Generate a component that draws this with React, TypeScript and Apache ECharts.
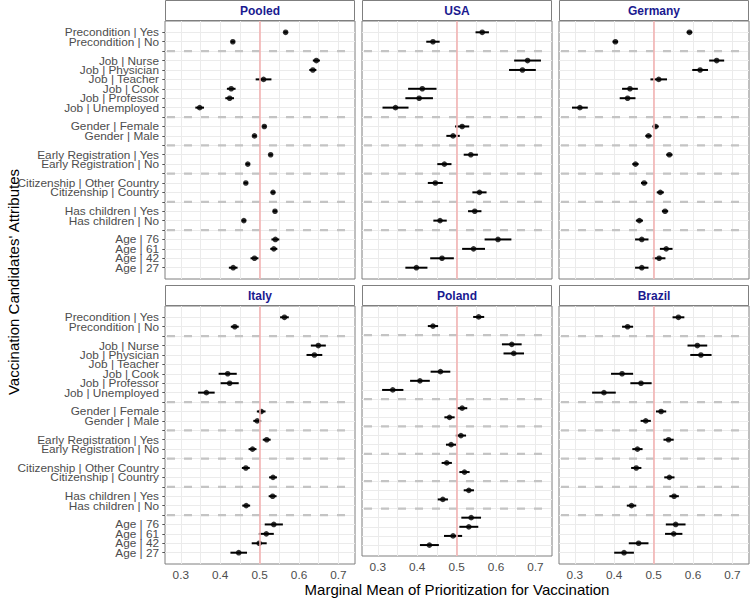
import React, { useEffect, useRef } from "react";
import * as echarts from "echarts";

const attributes = [
  "Precondition | Yes", "Precondition | No",
  "Job | Nurse", "Job | Physician", "Job | Teacher", "Job | Cook", "Job | Professor", "Job | Unemployed",
  "Gender | Female", "Gender | Male",
  "Early Registration | Yes", "Early Registration | No",
  "Citizenship | Other Country", "Citizenship | Country",
  "Has children | Yes", "Has children | No",
  "Age | 76", "Age | 61", "Age | 42", "Age | 27",
];
const attributeSlots = [0, 1, 3, 4, 5, 6, 7, 8, 10, 11, 13, 14, 16, 17, 19, 20, 22, 23, 24, 25];
const separatorSlots = [2, 9, 12, 15, 18, 21];
const allSlots = Array.from({ length: 26 }, (_, i) => i);
const panels = ["Pooled", "USA", "Germany", "Italy", "Poland", "Brazil"];
const xTicks = [0.3, 0.4, 0.5, 0.6, 0.7];
const xGridValues = [0.3, 0.35, 0.4, 0.45, 0.5, 0.55, 0.6, 0.65, 0.7];
const referenceValue = 0.5;

const pooledEstimate = [0.566, 0.432, 0.644, 0.635, 0.51, 0.428, 0.424, 0.348, 0.512, 0.487, 0.528, 0.47, 0.465, 0.534, 0.539, 0.46, 0.54, 0.536, 0.487, 0.433];
const pooledHalfCI = [0.005, 0.005, 0.009, 0.009, 0.02, 0.011, 0.011, 0.011, 0.005, 0.005, 0.005, 0.005, 0.005, 0.005, 0.005, 0.005, 0.01, 0.009, 0.01, 0.011];

const usaEstimate = [0.565, 0.44, 0.68, 0.667, null, 0.413, 0.405, 0.345, 0.514, 0.491, 0.536, 0.469, 0.446, 0.558, 0.546, 0.458, 0.605, 0.543, 0.463, 0.398];
const usaHalfCI = [0.017, 0.017, 0.034, 0.034, null, 0.036, 0.035, 0.033, 0.018, 0.017, 0.018, 0.018, 0.019, 0.018, 0.017, 0.017, 0.034, 0.029, 0.03, 0.028];

const germanyEstimate = [0.591, 0.403, 0.66, 0.618, 0.513, 0.44, 0.434, 0.313, 0.505, 0.487, 0.54, 0.454, 0.476, 0.517, 0.529, 0.464, 0.47, 0.532, 0.514, 0.47];
const germanyHalfCI = [0.007, 0.007, 0.019, 0.02, 0.021, 0.02, 0.02, 0.02, 0.008, 0.008, 0.008, 0.008, 0.008, 0.009, 0.008, 0.009, 0.017, 0.016, 0.016, 0.017];

const italyEstimate = [0.563, 0.437, 0.649, 0.639, null, 0.419, 0.424, 0.365, 0.504, 0.494, 0.518, 0.482, 0.465, 0.534, 0.533, 0.466, 0.536, 0.517, 0.499, 0.447];
const italyHalfCI = [0.011, 0.01, 0.019, 0.02, null, 0.023, 0.023, 0.021, 0.011, 0.01, 0.01, 0.01, 0.01, 0.01, 0.01, 0.01, 0.023, 0.019, 0.019, 0.021];

const polandEstimate = [0.556, 0.44, 0.64, 0.645, null, 0.459, 0.407, 0.338, 0.514, 0.482, 0.511, 0.486, 0.475, 0.52, 0.531, 0.465, 0.537, 0.531, 0.491, 0.431];
const polandHalfCI = [0.014, 0.013, 0.025, 0.026, null, 0.025, 0.025, 0.027, 0.013, 0.013, 0.013, 0.013, 0.013, 0.013, 0.013, 0.013, 0.025, 0.024, 0.023, 0.024];

const brazilEstimate = [0.563, 0.434, 0.611, 0.62, null, 0.42, 0.468, 0.374, 0.519, 0.48, 0.538, 0.459, 0.456, 0.54, 0.552, 0.444, 0.556, 0.551, 0.462, 0.425];
const brazilHalfCI = [0.015, 0.014, 0.025, 0.027, null, 0.028, 0.027, 0.03, 0.013, 0.013, 0.013, 0.013, 0.013, 0.013, 0.012, 0.012, 0.025, 0.022, 0.025, 0.025];

const panelEstimates = [pooledEstimate, usaEstimate, germanyEstimate, italyEstimate, polandEstimate, brazilEstimate];
const panelHalfCIs = [pooledHalfCI, usaHalfCI, germanyHalfCI, italyHalfCI, polandHalfCI, brazilHalfCI];

const FONT = "'Liberation Sans', Arial, Helvetica, sans-serif";
const BORDER = "#7f7f7f";
const GRIDC = "#ebebeb";

export default function App() {
  const ref = useRef<HTMLDivElement>(null);
  useEffect(() => {
    if (!ref.current) return;
    const chart = echarts.init(ref.current, undefined, { renderer: "svg" });

    const colLefts = [165, 362, 559];
    const rowTops = [21, 306];
    const W = 190;
    const H = 258;
    const X_MIN = 0.26;
    const X_MAX = 0.742;
    const Y_MIN = -1.2;
    const Y_MAX = 26.2;

    // ECharts hides the 2nd / 2nd-to-last label when it overlaps the end label,
    // so those two labels are placed on an overlaid helper axis.
    const extraSlots = [attributeSlots[1], attributeSlots[attributeSlots.length - 2]];
    const mainSlots = attributeSlots.filter((s) => extraSlots.indexOf(s) < 0);
    const labelFor = (v: number) => {
      const idx = attributeSlots.indexOf(Math.round(v));
      return idx >= 0 ? attributes[idx] : "";
    };
    const labelStyle = {
      margin: 6, showMinLabel: true, showMaxLabel: true, hideOverlap: false,
      color: "#4d4d4d", fontSize: 11.8, fontFamily: FONT,
      formatter: labelFor,
    };

    const grids: any[] = [];
    const xAxes: any[] = [];
    const yAxes: any[] = [];
    const extraYAxes: any[] = [];
    const series: any[] = [];
    const graphics: any[] = [];

    panels.forEach((name, p) => {
      const row = Math.floor(p / 3);
      const col = p % 3;
      const left = colLefts[col];
      const top = rowTops[row];
      grids.push({
        left, top, width: W, height: H,
        show: true, borderColor: BORDER, borderWidth: 1, backgroundColor: "#fff",
        containLabel: false,
      });
      const bottomRow = row === 1;
      const firstCol = col === 0;
      xAxes.push({
        type: "value", gridIndex: p, min: X_MIN, max: X_MAX,
        axisLine: { show: false },
        axisTick: { show: false, customValues: xGridValues },
        splitLine: { show: true, lineStyle: { color: GRIDC, width: 1 } },
        axisLabel: {
          show: bottomRow, customValues: xTicks, margin: 5,
          showMinLabel: true, showMaxLabel: true,
          color: "#4d4d4d", fontSize: 11.8, fontFamily: FONT,
          formatter: (v: number) => v.toFixed(1),
        },
        name: p === 4 ? "Marginal Mean of Prioritization for Vaccination" : "",
        nameLocation: "middle", nameGap: 26,
        nameTextStyle: { color: "#000", fontSize: 15, fontFamily: FONT },
      });
      yAxes.push({
        type: "value", gridIndex: p, min: Y_MIN, max: Y_MAX, inverse: true, position: "left",
        axisLine: { show: false },
        axisTick: { show: firstCol, length: 2.7, customValues: allSlots, lineStyle: { color: "#555" } },
        splitLine: { show: true, lineStyle: { color: GRIDC, width: 1 } },
        axisLabel: { show: firstCol, customValues: mainSlots, ...labelStyle },
      });
      if (firstCol) {
        extraYAxes.push({
          type: "value", gridIndex: p, min: Y_MIN, max: Y_MAX, inverse: true, position: "left", offset: 0,
          axisLine: { show: false },
          axisTick: { show: false },
          splitLine: { show: false },
          axisLabel: { show: true, customValues: extraSlots, ...labelStyle },
        });
      }

      const est = panelEstimates[p];
      const half = panelHalfCIs[p];
      const barData: any[] = [];
      const ptData: any[] = [];
      est.forEach((v, i) => {
        if (v == null) return;
        const h = half[i] as number;
        barData.push([v - h, v + h, attributeSlots[i]]);
        ptData.push([v, attributeSlots[i]]);
      });

      series.push({
        type: "custom", xAxisIndex: p, yAxisIndex: p, z: 2, silent: true,
        data: separatorSlots.map((s) => [X_MIN, X_MAX, s]),
        encode: { x: [0, 1], y: 2 },
        renderItem: (params: any, api: any) => {
          const a = api.coord([api.value(0), api.value(2)]);
          const b = api.coord([api.value(1), api.value(2)]);
          return {
            type: "line",
            shape: { x1: a[0], y1: a[1], x2: b[0], y2: b[1] },
            style: { stroke: "#c4c4c4", lineWidth: 2.2, lineDash: [8, 9], lineDashOffset: -2 },
          };
        },
      });
      series.push({
        type: "custom", xAxisIndex: p, yAxisIndex: p, z: 3,
        data: barData,
        encode: { x: [0, 1], y: 2 },
        renderItem: (params: any, api: any) => {
          const a = api.coord([api.value(0), api.value(2)]);
          const b = api.coord([api.value(1), api.value(2)]);
          return {
            type: "line",
            shape: { x1: a[0], y1: a[1], x2: b[0], y2: b[1] },
            style: { stroke: "#000", lineWidth: 2 },
          };
        },
        markLine: {
          silent: true, symbol: "none", animation: false,
          label: { show: false },
          lineStyle: { color: "#f3b3b3", width: 1.6, type: "solid" },
          emphasis: { disabled: true },
          data: [{ xAxis: referenceValue }],
        },
      });
      series.push({
        type: "scatter", xAxisIndex: p, yAxisIndex: p, z: 4,
        data: ptData, symbol: "circle", symbolSize: 5.6,
        itemStyle: { color: "#000" },
      });

      graphics.push({
        type: "rect",
        shape: { x: left + 0.5, y: top - 20.5, width: W - 1, height: 20 },
        style: { fill: "#fff", stroke: BORDER, lineWidth: 1 },
      });
      graphics.push({
        type: "text",
        x: left + W / 2, y: top - 10.5,
        style: {
          text: name, align: "center", verticalAlign: "middle",
          fill: "#1a1a90", fontSize: 12, fontWeight: "bold", fontFamily: FONT,
        },
      });
    });

    graphics.push({
      type: "text", x: 13, y: 282, rotation: Math.PI / 2,
      style: {
        text: "Vaccination Candidates' Attributes", align: "center", verticalAlign: "middle",
        fill: "#000", fontSize: 15, fontFamily: FONT,
      },
    });

    chart.setOption({
      animation: false,
      backgroundColor: "#fff",
      grid: grids,
      xAxis: xAxes,
      yAxis: [...yAxes, ...extraYAxes],
      series,
      graphic: graphics,
    });
    return () => chart.dispose();
  }, []);
  return (
    <div
      ref={ref}
      style={{ position: "fixed", left: 0, top: 0, width: 750, height: 598 }}
    />
  );
}
